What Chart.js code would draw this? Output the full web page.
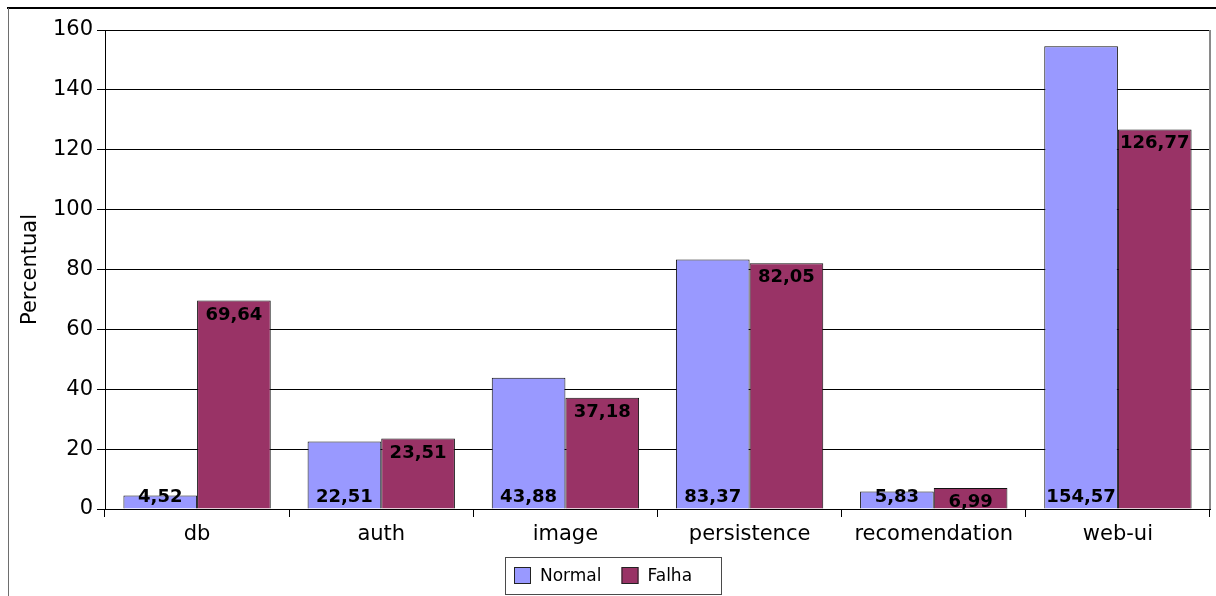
<!DOCTYPE html>
<html><head><meta charset="utf-8">
<script src="https://cdn.jsdelivr.net/npm/chart.js@4/dist/chart.umd.min.js"></script>
<style>
html,body{margin:0;padding:0;background:#fff;overflow:hidden}
#wrap{position:absolute;left:0;top:0;width:1216px;height:596px}
</style></head>
<body><div id="wrap"><canvas id="c" width="1216" height="596"></canvas></div>
<script>
const categories = ['db', 'auth', 'image', 'persistence', 'recomendation', 'web-ui'];
const normalValues = [4.52, 22.51, 43.88, 83.37, 5.83, 154.57];
const falhaValues = [69.64, 23.51, 37.18, 82.05, 6.99, 126.77];
const seriesNames = ['Normal', 'Falha'];
const seriesColors = ['#9999ff', '#993366'];
const yTickValues = [0, 20, 40, 60, 80, 100, 120, 140, 160];
const yTitle = 'Percentual';

const FONT = '"DejaVu Sans", sans-serif';
const fmt = v => v.toFixed(2).replace('.', ',');

const framePlugin = {
  id: 'frame',
  beforeDraw(chart) {
    const ctx = chart.ctx;
    ctx.save();
    ctx.fillStyle = '#fff';
    ctx.fillRect(0, 0, chart.width, chart.height);
    ctx.strokeStyle = '#000';
    ctx.lineWidth = 2;
    ctx.beginPath();
    ctx.moveTo(7, 8); ctx.lineTo(chart.width, 8);
    ctx.stroke();
    ctx.strokeStyle = '#6e6e6e';
    ctx.lineWidth = 1;
    ctx.beginPath();
    ctx.moveTo(8.5, 8); ctx.lineTo(8.5, chart.height);
    ctx.stroke();
    ctx.restore();
  },
  afterDraw(chart) {
    const ctx = chart.ctx;
    const a = chart.chartArea;
    ctx.save();
    ctx.strokeStyle = '#8a8a8a';
    ctx.lineWidth = 2;
    ctx.beginPath();
    ctx.moveTo(a.right, a.top); ctx.lineTo(a.right, a.bottom);
    ctx.stroke();
    const lx = 505.5, ly = 557.5, lw = 216, lh = 37;
    ctx.fillStyle = '#fff';
    ctx.fillRect(lx, ly, lw, lh);
    ctx.strokeStyle = '#4a4a4a';
    ctx.lineWidth = 1;
    ctx.strokeRect(lx, ly, lw, lh);
    ctx.font = '17px ' + FONT;
    ctx.textBaseline = 'alphabetic';
    ctx.textAlign = 'left';
    let x = 514;
    chart.data.datasets.forEach((ds, i) => {
      ctx.fillStyle = ds.backgroundColor;
      ctx.fillRect(x, 567, 17, 17);
      ctx.strokeStyle = '#222';
      ctx.strokeRect(x + 0.5, 567.5, 16, 16);
      ctx.fillStyle = '#000';
      ctx.fillText(ds.label, x + 26, 581);
      x += 26 + ctx.measureText(ds.label).width + 20;
    });
    ctx.restore();
  }
};

const labelPlugin = {
  id: 'barLabels',
  afterDatasetsDraw(chart) {
    const ctx = chart.ctx;
    ctx.save();
    ctx.font = 'bold 18px ' + FONT;
    ctx.fillStyle = '#000';
    ctx.textAlign = 'center';
    ctx.textBaseline = 'alphabetic';
    chart.data.datasets.forEach((ds, di) => {
      const meta = chart.getDatasetMeta(di);
      meta.data.forEach((bar, i) => {
        const y = di === 0 ? bar.base - 7 : bar.y + 19;
        ctx.fillText(fmt(ds.data[i]), bar.x, y);
      });
    });
    ctx.restore();
  }
};

new Chart(document.getElementById('c'), {
  type: 'bar',
  data: {
    labels: categories,
    datasets: [
      { label: seriesNames[0], data: normalValues, backgroundColor: seriesColors[0],
        borderColor: '#111', borderWidth: 1, categoryPercentage: 0.8, barPercentage: 1.0 },
      { label: seriesNames[1], data: falhaValues, backgroundColor: seriesColors[1],
        borderColor: '#111', borderWidth: 1, categoryPercentage: 0.8, barPercentage: 1.0 }
    ]
  },
  options: {
    responsive: false,
    animation: false,
    devicePixelRatio: 1,
    layout: { padding: { left: 0, top: 30, right: 6, bottom: 39 } },
    plugins: { legend: { display: false }, tooltip: { enabled: false } },
    scales: {
      x: {
        afterFit(s) { s.height = 48; },
        grid: { offset: true, drawOnChartArea: false, drawTicks: true, tickLength: 8, color: '#000', lineWidth: 1 },
        border: { color: '#000', width: 1 },
        ticks: { font: { family: FONT, size: 21 }, color: '#000', padding: 5, maxRotation: 0 }
      },
      y: {
        min: 0, max: 160,
        afterFit(s) { s.width = 105; },
        afterBuildTicks(s) { s.ticks = yTickValues.map(v => ({ value: v })); },
        grid: { color: '#000', lineWidth: 1, tickLength: 8, drawTicks: true },
        border: { color: '#000', width: 1 },
        ticks: { font: { family: FONT, size: 21 }, color: '#000', padding: 4 },
        title: { display: true, text: yTitle, font: { family: FONT, size: 21 }, color: '#000',
                 padding: { top: 18, bottom: 0 } }
      }
    }
  },
  plugins: [framePlugin, labelPlugin]
});
</script>
</body></html>
